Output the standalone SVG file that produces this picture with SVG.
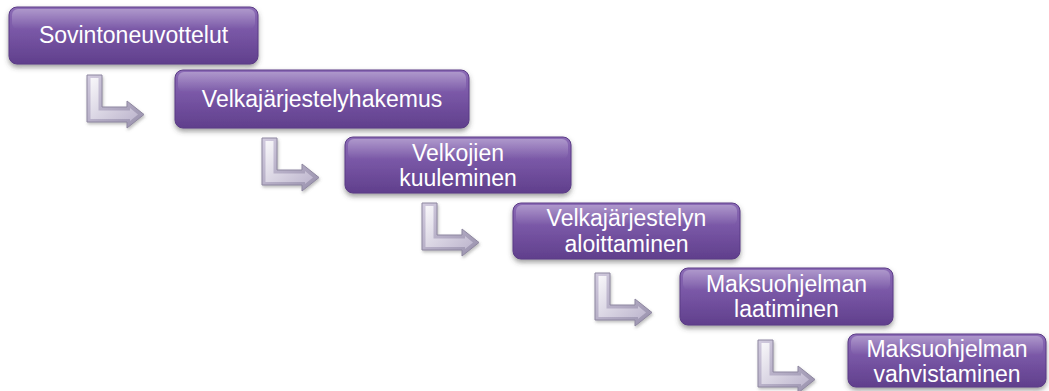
<svg xmlns="http://www.w3.org/2000/svg" width="1049" height="391" viewBox="0 0 1049 391">
  <style>
    .box { fill: url(#boxGrad); stroke: #5b3b86; stroke-width: 1; filter: url(#shadow); }
    .gloss { fill: url(#glossGrad); }
    .lbl { font-family: "Liberation Sans", Arial, sans-serif; font-size: 23px; fill: #ffffff; text-anchor: middle; }
    .arrOuter { fill: url(#arrowOuter); stroke: #8e87a0; stroke-width: 1; filter: url(#ashadow); }
    .arrInner { fill: url(#arrowInner); }
  </style>
  <defs>
    <linearGradient id="boxGrad" x1="0" y1="0" x2="0" y2="1">
      <stop offset="0" stop-color="#8c6cb6"/>
      <stop offset="0.45" stop-color="#7856a5"/>
      <stop offset="1" stop-color="#603f8c"/>
    </linearGradient>
    <linearGradient id="glossGrad" x1="0" y1="0" x2="0" y2="1">
      <stop offset="0" stop-color="#ffffff" stop-opacity="0.3"/>
      <stop offset="1" stop-color="#ffffff" stop-opacity="0"/>
    </linearGradient>
    <linearGradient id="arrowOuter" x1="0" y1="0" x2="1" y2="1">
      <stop offset="0" stop-color="#d2cbdf"/>
      <stop offset="1" stop-color="#9890ac"/>
    </linearGradient>
    <linearGradient id="arrowInner" x1="0" y1="0" x2="1" y2="1">
      <stop offset="0" stop-color="#ffffff"/>
      <stop offset="1" stop-color="#c2bad2"/>
    </linearGradient>
    <filter id="shadow" x="-10%" y="-20%" width="120%" height="150%">
      <feDropShadow dx="0" dy="3" stdDeviation="2.5" flood-color="#404040" flood-opacity="0.5"/>
    </filter>
    <filter id="ashadow" x="-20%" y="-20%" width="150%" height="150%">
      <feDropShadow dx="1" dy="2" stdDeviation="1.5" flood-color="#606060" flood-opacity="0.4"/>
    </filter>
    <g id="bentArrow">
      <path class="arrOuter" d="M0,0 H15 V32 H40 V26 L57,39.5 L40,53 V47 H0 Z"/>
      <path class="arrInner" d="M3.5,3 H11.5 V35.5 H43 V33 L51,39.5 L43,46 V44 H3.5 Z" opacity="0.85"/>
    </g>
  </defs>

  <g id="connectors">
    <use href="#bentArrow" x="87" y="75"/>
    <use href="#bentArrow" x="262" y="138"/>
    <use href="#bentArrow" x="422" y="203"/>
    <use href="#bentArrow" x="595" y="273"/>
    <use href="#bentArrow" x="758" y="340"/>
  </g>

  <g id="node1">
    <rect class="box" x="9" y="7" width="249" height="57" rx="8"/>
    <rect class="gloss" x="12" y="9" width="243" height="20" rx="6"/>
    <text class="lbl" x="133.5" y="43">Sovintoneuvottelut</text>
  </g>
  <g id="node2">
    <rect class="box" x="175" y="70" width="294" height="58" rx="8"/>
    <rect class="gloss" x="178" y="72" width="288" height="20" rx="6"/>
    <text class="lbl" x="322" y="107">Velkajärjestelyhakemus</text>
  </g>
  <g id="node3">
    <rect class="box" x="345" y="137" width="226" height="56" rx="8"/>
    <rect class="gloss" x="348" y="139" width="220" height="20" rx="6"/>
    <text class="lbl" x="458" y="161">Velkojien</text>
    <text class="lbl" x="458" y="186">kuuleminen</text>
  </g>
  <g id="node4">
    <rect class="box" x="513" y="203" width="227" height="56" rx="8"/>
    <rect class="gloss" x="516" y="205" width="221" height="20" rx="6"/>
    <text class="lbl" x="626.5" y="226">Velkajärjestelyn</text>
    <text class="lbl" x="626.5" y="252">aloittaminen</text>
  </g>
  <g id="node5">
    <rect class="box" x="680" y="268" width="213" height="57" rx="8"/>
    <rect class="gloss" x="683" y="270" width="207" height="20" rx="6"/>
    <text class="lbl" x="786.5" y="292">Maksuohjelman</text>
    <text class="lbl" x="786.5" y="317">laatiminen</text>
  </g>
  <g id="node6">
    <rect class="box" x="848" y="334" width="198" height="53" rx="8"/>
    <rect class="gloss" x="851" y="336" width="192" height="19" rx="6"/>
    <text class="lbl" x="947" y="357">Maksuohjelman</text>
    <text class="lbl" x="947" y="382">vahvistaminen</text>
  </g>
</svg>
